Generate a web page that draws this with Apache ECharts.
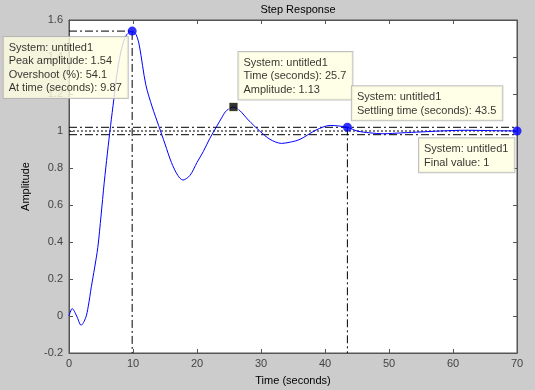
<!DOCTYPE html>
<html>
<head>
<meta charset="utf-8">
<script src="https://cdn.jsdelivr.net/npm/echarts@6/dist/echarts.min.js"></script>
<style>
  html, body { margin: 0; padding: 0; background: #cccccc; }
  #chart { width: 535px; height: 390px; }
</style>
</head>
<body>
<div id="chart"></div>
<script>
// step response
var tiempo = [0, 0.5, 1.2, 1.9, 2.6, 3, 3.5, 4, 4.5, 5, 5.5, 6, 6.5, 7, 7.5, 8, 8.5, 9, 9.87, 10.5, 11, 12, 13, 14, 15, 16, 17, 17.8, 18.9, 20, 21, 22, 23, 24, 24.6, 25.7, 26.7, 28, 29.8, 31.4, 33.2, 34.6, 36.1, 38.6, 40.8, 43.5, 45, 47, 49, 52, 55, 58, 62, 66, 70];
var amplitud = [0, 0.04, 0.0, -0.05, -0.01, 0.05, 0.16, 0.26, 0.37, 0.54, 0.72, 0.88, 1.03, 1.17, 1.31, 1.41, 1.48, 1.52, 1.54, 1.52, 1.46, 1.25, 1.13, 1.03, 0.93, 0.83, 0.76, 0.735, 0.76, 0.83, 0.89, 0.96, 1.02, 1.08, 1.11, 1.13, 1.11, 1.06, 1.0, 0.955, 0.933, 0.94, 0.955, 1.005, 1.03, 1.02, 1.0, 0.99, 0.985, 0.99, 0.995, 1.0, 1.004, 1.002, 1.0];

var xTicks = [0, 10, 20, 30, 40, 50, 60, 70];
var yTicks = [-0.2, 0, 0.2, 0.4, 0.6, 0.8, 1, 1.2, 1.4, 1.6];

// data tips
var pico = [9.87, 1.54];
var sobrepaso = 54.1;
var puntoMarcado = [25.7, 1.13];
var asentamiento = [43.5, 1.02];
var banda = [0.98, 1.02];
var valorFinal = [70, 1];

var chart = echarts.init(document.getElementById('chart'));

var fuente = 'Liberation Sans, Arial, sans-serif';
var dashDot = [8, 3, 2, 3];
var gris = '#555555';

function tipLabel(texto, dx, dy) {
    return {
        show: true,
        formatter: texto,
        position: [dx, dy],
        align: 'left',
        verticalAlign: 'top',
        color: '#000',
        fontFamily: fuente,
        fontSize: 11,
        lineHeight: 13.5,
        backgroundColor: '#ffffe1',
        borderColor: '#b0b0b0',
        borderWidth: 1,
        padding: [4, 6, 3, 5]
    };
}

function ejeX(pos, conNombre) {
    return {
        type: 'value',
        position: pos,
        min: xTicks[0],
        max: xTicks[xTicks.length - 1],
        interval: 10,
        name: conNombre ? 'Time (seconds)' : '',
        nameLocation: 'middle',
        nameGap: 22,
        nameTextStyle: { fontFamily: fuente, fontSize: 11, color: '#000' },
        axisLine: { show: true, onZero: false, lineStyle: { color: gris } },
        axisTick: { inside: true, length: 4, lineStyle: { color: gris } },
        axisLabel: { show: conNombre, margin: 5, fontFamily: fuente, fontSize: 11, color: '#444444' },
        splitLine: { show: false }
    };
}

function ejeY(pos, conNombre) {
    return {
        type: 'value',
        position: pos,
        min: yTicks[0],
        max: yTicks[yTicks.length - 1],
        interval: 0.2,
        name: conNombre ? 'Amplitude' : '',
        nameLocation: 'middle',
        nameGap: 38,
        nameRotate: 90,
        nameTextStyle: { fontFamily: fuente, fontSize: 11, color: '#000' },
        axisLine: { show: true, onZero: false, lineStyle: { color: gris } },
        axisTick: { inside: true, length: 4, lineStyle: { color: gris } },
        axisLabel: {
            show: conNombre, margin: 6, fontFamily: fuente, fontSize: 11, color: '#444444',
            formatter: function (v) { return String(Math.round(v * 10) / 10); }
        },
        splitLine: { show: false }
    };
}

var curva = tiempo.map(function (t, i) { return [t, amplitud[i]]; });

var option = {
    backgroundColor: '#cccccc',
    animation: false,
    title: {
        text: 'Step Response',
        left: 293,
        top: -1,
        textAlign: 'center',
        textStyle: { fontFamily: fuente, fontSize: 11, fontWeight: 'normal', color: '#000' }
    },
    grid: {
        left: 69, right: 18, top: 20, bottom: 37,
        show: true,
        backgroundColor: '#ffffff',
        borderColor: gris,
        borderWidth: 1,
        outerBoundsMode: 'none'
    },
    xAxis: [ejeX('bottom', true), ejeX('top', false)],
    yAxis: [ejeY('left', true), ejeY('right', false)],
    series: [
        // reference lines
        {
            type: 'line', symbol: 'none', silent: true, z: 1,
            data: [[0, pico[1]], [pico[0], pico[1]], [pico[0], yTicks[0]]],
            lineStyle: { color: '#000', width: 1, type: dashDot }
        },
        {
            type: 'line', symbol: 'none', silent: true, z: 1,
            data: [[0, banda[1]], [70, banda[1]]],
            lineStyle: { color: '#000', width: 1, type: dashDot }
        },
        {
            type: 'line', symbol: 'none', silent: true, z: 1,
            data: [[0, banda[0]], [70, banda[0]]],
            lineStyle: { color: '#000', width: 1, type: dashDot }
        },
        {
            type: 'line', symbol: 'none', silent: true, z: 1,
            data: [[0, valorFinal[1]], [70, valorFinal[1]]],
            lineStyle: { color: '#000', width: 1, type: [2, 2] }
        },
        {
            type: 'line', symbol: 'none', silent: true, z: 1,
            data: [[asentamiento[0], asentamiento[1]], [asentamiento[0], yTicks[0]]],
            lineStyle: { color: '#000', width: 1, type: dashDot }
        },
        // response
        {
            type: 'line', symbol: 'none', smooth: 0.3, z: 2,
            data: curva,
            lineStyle: { color: '#0000ff', width: 1 }
        },
        // markers with data tips
        {
            type: 'scatter', symbol: 'circle', symbolSize: 9, clip: false, z: 10,
            itemStyle: { color: '#0000ff' },
            data: [pico],
            label: tipLabel('System: untitled1\nPeak amplitude: ' + pico[1] +
                '\nOvershoot (%): ' + sobrepaso + '\nAt time (seconds): ' + pico[0], -124, 10.5)
        },
        {
            type: 'scatter', symbol: 'rect', symbolSize: 9, clip: false, z: 10,
            itemStyle: { color: '#000', borderColor: '#ffffe1', borderWidth: 1 },
            data: [puntoMarcado],
            label: tipLabel('System: untitled1\nTime (seconds): ' + puntoMarcado[0] +
                '\nAmplitude: ' + puntoMarcado[1], 10, -50)
        },
        {
            type: 'scatter', symbol: 'circle', symbolSize: 9, clip: false, z: 10,
            itemStyle: { color: '#0000ff' },
            data: [asentamiento],
            label: tipLabel('System: untitled1\nSettling time (seconds): ' + asentamiento[0], 9, -36.5)
        },
        {
            type: 'scatter', symbol: 'circle', symbolSize: 9, clip: false, z: 10,
            itemStyle: { color: '#0000ff' },
            data: [valorFinal],
            label: tipLabel('System: untitled1\nFinal value: ' + valorFinal[1], -93.5, 11.8)
        }
    ]
};
chart.setOption(option);
</script>
</body>
</html>
